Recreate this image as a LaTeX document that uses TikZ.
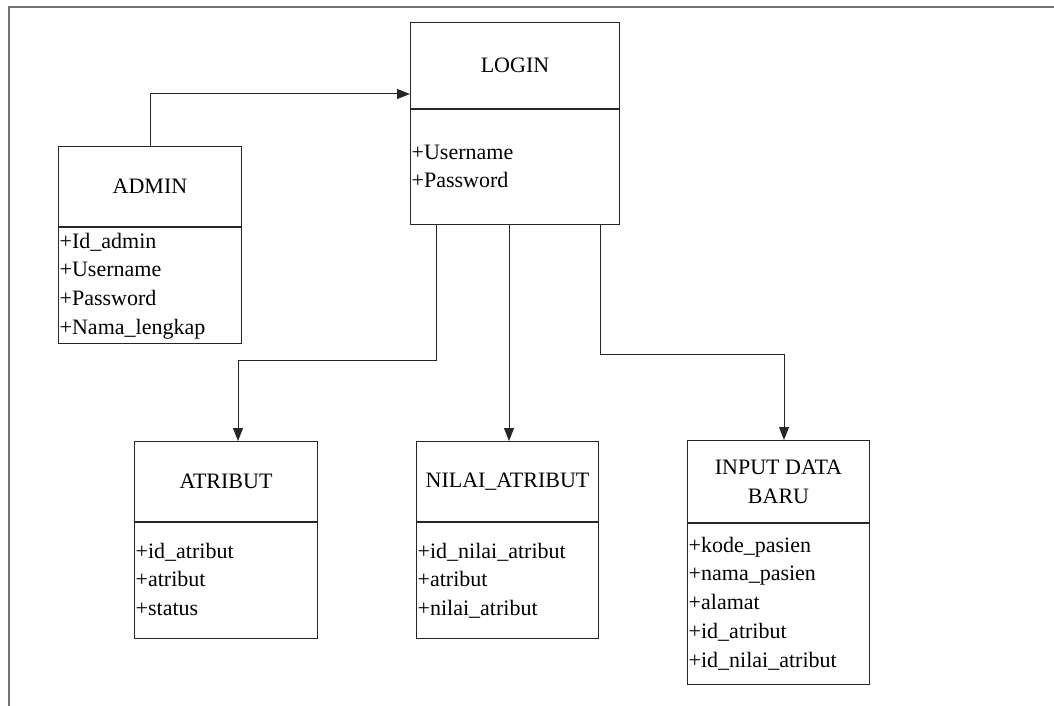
\documentclass[tikz,border=0pt]{standalone}
\usepackage{fontspec}
\setmainfont{Liberation Serif}
\usetikzlibrary{positioning}
\usetikzlibrary{arrows.meta}

\begin{document}
\begin{tikzpicture}[
  x=1pt, y=1pt,
  font=\fontsize{22}{28.7}\selectfont,
  pageframe/.style={draw=black!55, line width=1.6pt},
  head/.style={draw=black!85, line width=1pt, minimum width=183pt, minimum height=80pt, inner sep=0pt, align=center},
  body/.style={draw=black!85, line width=1pt, minimum width=183pt, inner sep=0pt},
  attr/.style={inner xsep=1.5pt, inner ysep=0pt, align=left},
  link/.style={-{Triangle[length=13pt,width=10pt]}, draw=black!85, line width=1pt}
]
\useasboundingbox (0,0) rectangle (1054,-706);

% page frame
\draw[pageframe] (1054,-7) -- (9,-7) -- (9,-706);

% LOGIN
\node[head, anchor=north west, minimum width=209pt, minimum height=86pt] (loginT) at (410,-22) {LOGIN};
\node[body, below=0pt of loginT, minimum width=209pt, minimum height=115pt] (loginB) {};
\node[attr, below right=30pt and 0pt of loginB.north west] (loginA) {\strut+Username\\\strut+Password};

% ADMIN
\node[head, anchor=north west] (adminT) at (58,-146) {ADMIN};
\node[body, below=0pt of adminT, minimum height=116pt] (adminB) {};
\node[attr, below right=1pt and 0pt of adminB.north west] (adminA)
  {\strut+Id\_admin\\\strut+Username\\\strut+Password\\\strut+Nama\_lengkap};

% ATRIBUT
\node[head, anchor=north west] (atributT) at (134,-441) {ATRIBUT};
\node[body, below=0pt of atributT, minimum height=116pt] (atributB) {};
\node[attr, below right=16pt and 0pt of atributB.north west] (atributA)
  {\strut+id\_atribut\\\strut+atribut\\\strut+status};

% NILAI_ATRIBUT
\node[head, anchor=north west, minimum width=182pt] (nilaiT) at (416,-441) {NILAI\_ATRIBUT};
\node[body, below=0pt of nilaiT, minimum width=182pt, minimum height=116pt] (nilaiB) {};
\node[attr, below right=16pt and 0pt of nilaiB.north west] (nilaiA)
  {\strut+id\_nilai\_atribut\\\strut+atribut\\\strut+nilai\_atribut};

% INPUT DATA BARU
\node[head, anchor=north west, minimum width=182pt, minimum height=82pt] (inputT) at (687,-440) {INPUT DATA\\BARU};
\node[body, below=0pt of inputT, minimum width=182pt, minimum height=161pt] (inputB) {};
\node[attr, below right=9pt and 0pt of inputB.north west] (inputA)
  {\strut+kode\_pasien\\\strut+nama\_pasien\\\strut+alamat\\\strut+id\_atribut\\\strut+id\_nilai\_atribut};

% connectors
\draw[link] (adminT.north) |- ([yshift=-72pt]loginT.north west);
\draw[link] ([xshift=26pt]loginB.south west) -- ++(0,-135) -| ([xshift=104pt]atributT.north west);
\draw[link] ([xshift=99pt]loginB.south west) -- ([xshift=93pt]nilaiT.north west);
\draw[link] ([xshift=-20pt]loginB.south east) -- ++(0,-129) -| ([xshift=97pt]inputT.north west);

\end{tikzpicture}
\end{document}
